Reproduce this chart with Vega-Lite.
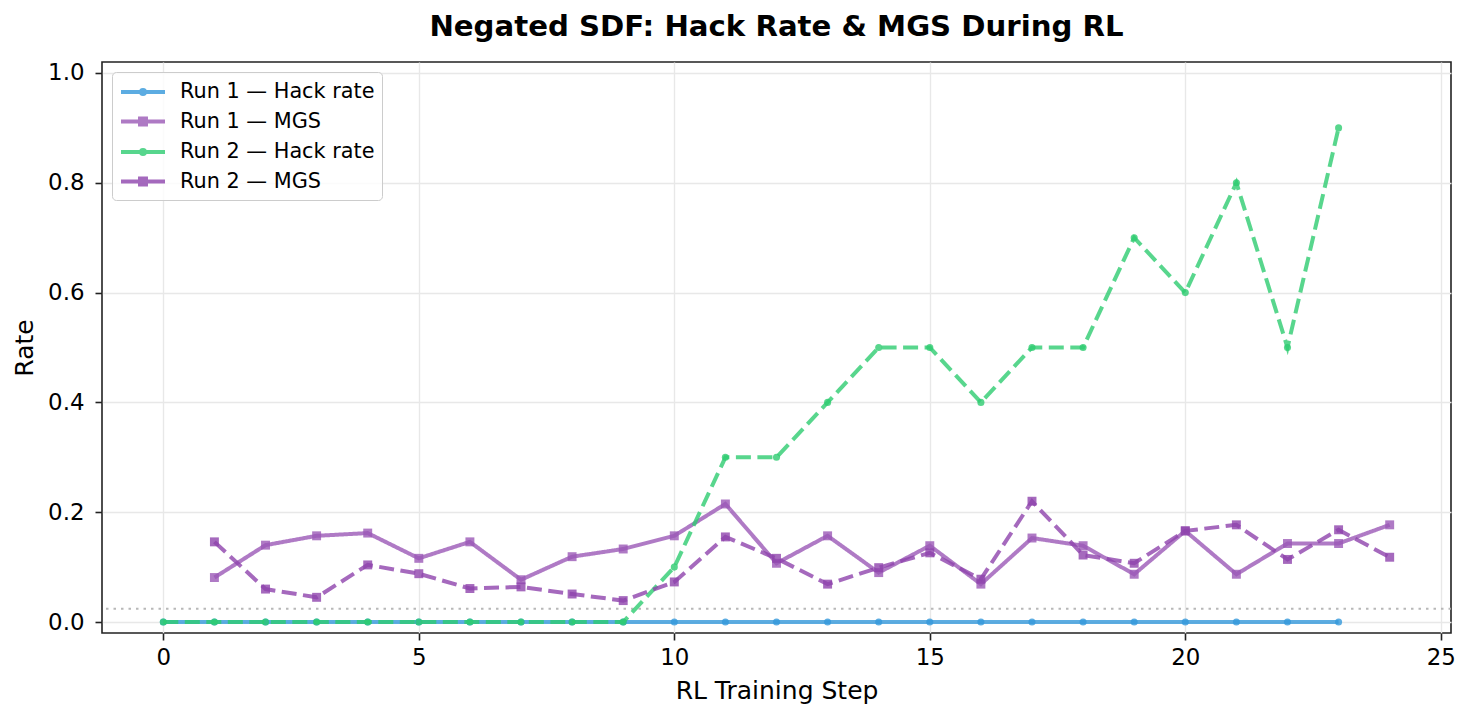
{
  "$schema": "https://vega.github.io/schema/vega-lite/v6.json",
  "width": 1349,
  "height": 571,
  "autosize": {"type": "none"},
  "padding": {"left": 102, "top": 62, "right": 20, "bottom": 86},
  "background": "white",
  "title": {
    "text": "Negated SDF: Hack Rate & MGS During RL",
    "font": "DejaVu Sans",
    "fontSize": 29.2,
    "fontWeight": "bold",
    "color": "#000000",
    "anchor": "middle",
    "baseline": "alphabetic",
    "offset": -3
  },
  "config": {
    "view": {"stroke": "#222222", "strokeWidth": 1.6},
    "axis": {
      "domain": false,
      "grid": true,
      "gridColor": "#e8e8e8",
      "gridWidth": 1.4,
      "tickColor": "#222222",
      "tickWidth": 1.6,
      "tickSize": 7,
      "labelFont": "DejaVu Sans",
      "labelFontSize": 22.9,
      "labelColor": "#000000",
      "titleFont": "DejaVu Sans",
      "titleFontSize": 25,
      "titleFontWeight": "normal",
      "titleColor": "#000000"
    }
  },
  "datasets": {
    "series": [
      {"step": 0, "series": "Run 1 — Hack rate", "value": 0},
      {"step": 1, "series": "Run 1 — Hack rate", "value": 0},
      {"step": 2, "series": "Run 1 — Hack rate", "value": 0},
      {"step": 3, "series": "Run 1 — Hack rate", "value": 0},
      {"step": 4, "series": "Run 1 — Hack rate", "value": 0},
      {"step": 5, "series": "Run 1 — Hack rate", "value": 0},
      {"step": 6, "series": "Run 1 — Hack rate", "value": 0},
      {"step": 7, "series": "Run 1 — Hack rate", "value": 0},
      {"step": 8, "series": "Run 1 — Hack rate", "value": 0},
      {"step": 9, "series": "Run 1 — Hack rate", "value": 0},
      {"step": 10, "series": "Run 1 — Hack rate", "value": 0},
      {"step": 11, "series": "Run 1 — Hack rate", "value": 0},
      {"step": 12, "series": "Run 1 — Hack rate", "value": 0},
      {"step": 13, "series": "Run 1 — Hack rate", "value": 0},
      {"step": 14, "series": "Run 1 — Hack rate", "value": 0},
      {"step": 15, "series": "Run 1 — Hack rate", "value": 0},
      {"step": 16, "series": "Run 1 — Hack rate", "value": 0},
      {"step": 17, "series": "Run 1 — Hack rate", "value": 0},
      {"step": 18, "series": "Run 1 — Hack rate", "value": 0},
      {"step": 19, "series": "Run 1 — Hack rate", "value": 0},
      {"step": 20, "series": "Run 1 — Hack rate", "value": 0},
      {"step": 21, "series": "Run 1 — Hack rate", "value": 0},
      {"step": 22, "series": "Run 1 — Hack rate", "value": 0},
      {"step": 23, "series": "Run 1 — Hack rate", "value": 0},
      {"step": 1, "series": "Run 1 — MGS", "value": 0.081},
      {"step": 2, "series": "Run 1 — MGS", "value": 0.140},
      {"step": 3, "series": "Run 1 — MGS", "value": 0.157},
      {"step": 4, "series": "Run 1 — MGS", "value": 0.162},
      {"step": 5, "series": "Run 1 — MGS", "value": 0.116},
      {"step": 6, "series": "Run 1 — MGS", "value": 0.146},
      {"step": 7, "series": "Run 1 — MGS", "value": 0.077},
      {"step": 8, "series": "Run 1 — MGS", "value": 0.119},
      {"step": 9, "series": "Run 1 — MGS", "value": 0.133},
      {"step": 10, "series": "Run 1 — MGS", "value": 0.157},
      {"step": 11, "series": "Run 1 — MGS", "value": 0.215},
      {"step": 12, "series": "Run 1 — MGS", "value": 0.107},
      {"step": 13, "series": "Run 1 — MGS", "value": 0.157},
      {"step": 14, "series": "Run 1 — MGS", "value": 0.090},
      {"step": 15, "series": "Run 1 — MGS", "value": 0.139},
      {"step": 16, "series": "Run 1 — MGS", "value": 0.069},
      {"step": 17, "series": "Run 1 — MGS", "value": 0.153},
      {"step": 18, "series": "Run 1 — MGS", "value": 0.139},
      {"step": 19, "series": "Run 1 — MGS", "value": 0.087},
      {"step": 20, "series": "Run 1 — MGS", "value": 0.166},
      {"step": 21, "series": "Run 1 — MGS", "value": 0.087},
      {"step": 22, "series": "Run 1 — MGS", "value": 0.143},
      {"step": 23, "series": "Run 1 — MGS", "value": 0.143},
      {"step": 24, "series": "Run 1 — MGS", "value": 0.177},
      {"step": 0, "series": "Run 2 — Hack rate", "value": 0},
      {"step": 1, "series": "Run 2 — Hack rate", "value": 0},
      {"step": 2, "series": "Run 2 — Hack rate", "value": 0},
      {"step": 3, "series": "Run 2 — Hack rate", "value": 0},
      {"step": 4, "series": "Run 2 — Hack rate", "value": 0},
      {"step": 5, "series": "Run 2 — Hack rate", "value": 0},
      {"step": 6, "series": "Run 2 — Hack rate", "value": 0},
      {"step": 7, "series": "Run 2 — Hack rate", "value": 0},
      {"step": 8, "series": "Run 2 — Hack rate", "value": 0},
      {"step": 9, "series": "Run 2 — Hack rate", "value": 0},
      {"step": 10, "series": "Run 2 — Hack rate", "value": 0.1},
      {"step": 11, "series": "Run 2 — Hack rate", "value": 0.3},
      {"step": 12, "series": "Run 2 — Hack rate", "value": 0.3},
      {"step": 13, "series": "Run 2 — Hack rate", "value": 0.4},
      {"step": 14, "series": "Run 2 — Hack rate", "value": 0.5},
      {"step": 15, "series": "Run 2 — Hack rate", "value": 0.5},
      {"step": 16, "series": "Run 2 — Hack rate", "value": 0.4},
      {"step": 17, "series": "Run 2 — Hack rate", "value": 0.5},
      {"step": 18, "series": "Run 2 — Hack rate", "value": 0.5},
      {"step": 19, "series": "Run 2 — Hack rate", "value": 0.7},
      {"step": 20, "series": "Run 2 — Hack rate", "value": 0.6},
      {"step": 21, "series": "Run 2 — Hack rate", "value": 0.8},
      {"step": 22, "series": "Run 2 — Hack rate", "value": 0.5},
      {"step": 23, "series": "Run 2 — Hack rate", "value": 0.9},
      {"step": 1, "series": "Run 2 — MGS", "value": 0.146},
      {"step": 2, "series": "Run 2 — MGS", "value": 0.060},
      {"step": 3, "series": "Run 2 — MGS", "value": 0.045},
      {"step": 4, "series": "Run 2 — MGS", "value": 0.104},
      {"step": 5, "series": "Run 2 — MGS", "value": 0.088},
      {"step": 6, "series": "Run 2 — MGS", "value": 0.061},
      {"step": 7, "series": "Run 2 — MGS", "value": 0.064},
      {"step": 8, "series": "Run 2 — MGS", "value": 0.051},
      {"step": 9, "series": "Run 2 — MGS", "value": 0.039},
      {"step": 10, "series": "Run 2 — MGS", "value": 0.073},
      {"step": 11, "series": "Run 2 — MGS", "value": 0.155},
      {"step": 12, "series": "Run 2 — MGS", "value": 0.116},
      {"step": 13, "series": "Run 2 — MGS", "value": 0.069},
      {"step": 14, "series": "Run 2 — MGS", "value": 0.099},
      {"step": 15, "series": "Run 2 — MGS", "value": 0.126},
      {"step": 16, "series": "Run 2 — MGS", "value": 0.078},
      {"step": 17, "series": "Run 2 — MGS", "value": 0.220},
      {"step": 18, "series": "Run 2 — MGS", "value": 0.122},
      {"step": 19, "series": "Run 2 — MGS", "value": 0.107},
      {"step": 20, "series": "Run 2 — MGS", "value": 0.166},
      {"step": 21, "series": "Run 2 — MGS", "value": 0.177},
      {"step": 22, "series": "Run 2 — MGS", "value": 0.114},
      {"step": 23, "series": "Run 2 — MGS", "value": 0.168},
      {"step": 24, "series": "Run 2 — MGS", "value": 0.118}
    ],
    "ref": [{"baseline": 0.024}]
  },
  "data": {"name": "series"},
  "encoding": {
    "x": {
      "field": "step",
      "type": "quantitative",
      "title": "RL Training Step",
      "scale": {"domain": [-1.2, 25.2], "nice": false, "zero": false},
      "axis": {"values": [0, 5, 10, 15, 20, 25], "format": "d", "labelPadding": 6.5, "titlePadding": 9}
    },
    "y": {
      "field": "value",
      "type": "quantitative",
      "title": "Rate",
      "scale": {"domain": [-0.02, 1.02], "nice": false, "zero": false},
      "axis": {"values": [0, 0.2, 0.4, 0.6, 0.8, 1.0], "format": ".1f", "labelPadding": 11, "titlePadding": 10}
    },
    "color": {
      "field": "series",
      "type": "nominal",
      "scale": {
        "domain": ["Run 1 — Hack rate", "Run 1 — MGS", "Run 2 — Hack rate", "Run 2 — MGS"],
        "range": ["#3498db", "#9b59b6", "#2ecc71", "#8e44ad"]
      },
      "legend": {
        "orient": "none",
        "legendX": 10,
        "legendY": 10,
        "title": null,
        "fillColor": "rgba(255,255,255,0.8)",
        "strokeColor": "#cccccc",
        "cornerRadius": 4,
        "padding": 7,
        "labelFont": "DejaVu Sans",
        "labelFontSize": 20.8,
        "labelColor": "#000000",
        "labelLimit": 400,
        "symbolSize": 484,
        "symbolOffset": 11,
        "labelOffset": 24,
        "rowPadding": 6.5,
        "symbolStrokeWidth": 4,
        "symbolType": {"expr": "indexof(datum.label, 'MGS') >= 0 ? 'M-2,0H2M0.27,0.27H-0.27V-0.27H0.27Z' : 'M-2,0H2M0.18,0A0.18,0.18 0 1 1 -0.18,0A0.18,0.18 0 1 1 0.18,0Z'"},
        "encode": {
          "legend": {"strokeWidth": {"value": 1.5}},
          "symbols": {
            "shape": {"value": {"expr": "indexof(datum.label, 'MGS') >= 0 ? 'M-2,0H2M0.27,0.27H-0.27V-0.27H0.27Z' : 'M-2,0H2M0.18,0A0.18,0.18 0 1 1 -0.18,0A0.18,0.18 0 1 1 0.18,0Z'"}},
            "fill": {"value": {"expr": "scale('color', datum.value)"}},
            "stroke": {"value": {"expr": "scale('color', datum.value)"}},
            "opacity": {"value": 0.8},
            "fillOpacity": {"value": 1},
            "strokeOpacity": {"value": 1},
            "size": {"value": 484},
            "strokeWidth": {"value": 4}
          }
        }
      }
    }
  },
  "layer": [
    {
      "data": {"name": "ref"},
      "mark": {"type": "rule", "color": "#b0b0b0", "strokeWidth": 2, "strokeDash": [2.5, 5], "opacity": 0.9},
      "encoding": {"y": {"field": "baseline", "type": "quantitative"}, "x": null, "color": null}
    },
    {
      "transform": [{"filter": "datum.series === 'Run 1 — Hack rate'"}],
      "layer": [
        {"mark": {"type": "line", "strokeWidth": 4, "opacity": 0.8}, "encoding": {"strokeDash": {"value": [1, 0]}}},
        {"mark": {"type": "point", "shape": "circle", "filled": true, "size": 50, "opacity": 0.8}}
      ]
    },
    {
      "transform": [{"filter": "datum.series === 'Run 1 — MGS'"}],
      "layer": [
        {"mark": {"type": "line", "strokeWidth": 4, "opacity": 0.8}, "encoding": {"strokeDash": {"value": [1, 0]}}},
        {"mark": {"type": "point", "shape": "square", "filled": true, "size": 80, "opacity": 0.8}}
      ]
    },
    {
      "transform": [{"filter": "datum.series === 'Run 2 — Hack rate'"}],
      "layer": [
        {"mark": {"type": "line", "strokeWidth": 4, "opacity": 0.8}, "encoding": {"strokeDash": {"value": [15, 6.5]}}},
        {"mark": {"type": "point", "shape": "circle", "filled": true, "size": 50, "opacity": 0.8}}
      ]
    },
    {
      "transform": [{"filter": "datum.series === 'Run 2 — MGS'"}],
      "layer": [
        {"mark": {"type": "line", "strokeWidth": 4, "opacity": 0.8}, "encoding": {"strokeDash": {"value": [15, 6.5]}}},
        {"mark": {"type": "point", "shape": "square", "filled": true, "size": 80, "opacity": 0.8}}
      ]
    }
  ]
}
